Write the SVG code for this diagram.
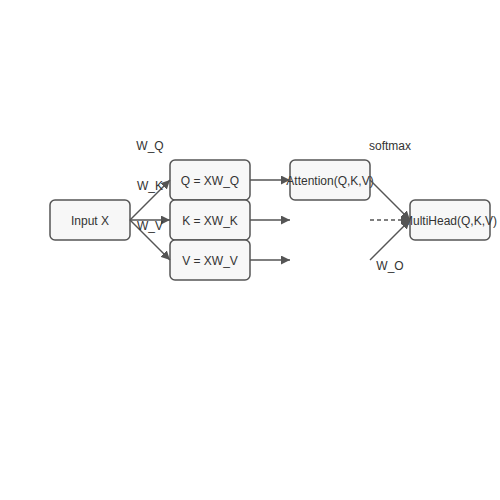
<svg xmlns="http://www.w3.org/2000/svg" width="500" height="500" viewBox="0 0 500 500">
<style>
.box{fill:#f7f7f7;stroke:#555;stroke-width:1.5}
.t{font-family:"Liberation Sans",Arial,sans-serif;font-size:12px;fill:#333;text-anchor:middle;dominant-baseline:central}
.e{stroke:#555;stroke-width:1.5;fill:none}
.d{stroke-dasharray:4,3}
</style>
<defs>
<marker id="a" viewBox="0 0 10 10" refX="10" refY="5" markerWidth="9" markerHeight="9" orient="auto" markerUnits="userSpaceOnUse">
<path d="M0,0L10,5L0,10z" fill="#555"/>
</marker>
</defs>
<rect width="500" height="500" fill="#fff"/>
<g id="input"><rect class="box" x="50" y="200" width="80" height="40" rx="5"/><text class="t" x="90" y="221">Input X</text></g>
<g id="q"><rect class="box" x="170" y="160" width="80" height="40" rx="5"/><text class="t" x="210" y="181">Q = XW_Q</text></g>
<g id="k"><rect class="box" x="170" y="200" width="80" height="40" rx="5"/><text class="t" x="210" y="221">K = XW_K</text></g>
<g id="v"><rect class="box" x="170" y="240" width="80" height="40" rx="5"/><text class="t" x="210" y="261">V = XW_V</text></g>
<g id="attention"><rect class="box" x="290" y="160" width="80" height="40" rx="5"/><text class="t" x="330" y="181">Attention(Q,K,V)</text></g>
<g id="multihead"><rect class="box" x="410" y="200" width="80" height="40" rx="5"/><text class="t" x="450" y="221">MultiHead(Q,K,V)</text></g>
<g id="connectors">
<line class="e" x1="130" y1="220" x2="170" y2="180" marker-end="url(#a)"/>
<line class="e" x1="130" y1="220" x2="170" y2="220" marker-end="url(#a)"/>
<line class="e" x1="130" y1="220" x2="170" y2="260" marker-end="url(#a)"/>
<line class="e" x1="250" y1="180" x2="290" y2="180" marker-end="url(#a)"/>
<line class="e" x1="250" y1="220" x2="290" y2="220" marker-end="url(#a)"/>
<line class="e" x1="250" y1="260" x2="290" y2="260" marker-end="url(#a)"/>
<line class="e" x1="370" y1="180" x2="410" y2="220" marker-end="url(#a)"/>
<line class="e d" x1="370" y1="220" x2="410" y2="220" marker-end="url(#a)"/>
<line class="e" x1="370" y1="260" x2="410" y2="220" marker-end="url(#a)"/>
<text class="t" x="150" y="146">W_Q</text>
<text class="t" x="150" y="186">W_K</text>
<text class="t" x="150" y="226">W_V</text>
<text class="t" x="390" y="146">softmax</text>
<text class="t" x="390" y="266">W_O</text>
</g>
</svg>
